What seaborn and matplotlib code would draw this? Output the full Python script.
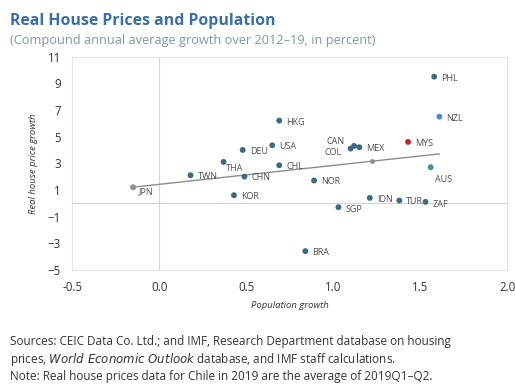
import numpy as np
import pandas as pd
import seaborn as sns
import matplotlib.pyplot as plt

# Data (population growth, real house price growth)
countries = ['JPN', 'TWN', 'THA', 'DEU', 'CHN', 'KOR', 'USA', 'HKG', 'CHL', 'NOR',
             'BRA', 'SGP', 'CAN', 'COL', 'MEX', 'IDN', 'TUR', 'ZAF', 'AUS', 'MYS',
             'PHL', 'NZL']
pop_growth = [-0.15, 0.18, 0.37, 0.48, 0.49, 0.43, 0.65, 0.69, 0.69, 0.89,
              0.84, 1.03, 1.12, 1.10, 1.15, 1.21, 1.38, 1.53, 1.56, 1.43,
              1.58, 1.61]
price_growth = [1.2, 2.1, 3.1, 4.0, 2.0, 0.6, 4.35, 6.2, 2.85, 1.7,
                -3.6, -0.3, 4.3, 4.1, 4.2, 0.4, 0.2, 0.1, 2.7, 4.6,
                9.5, 6.5]
groups = ['other', 'main', 'main', 'main', 'main', 'main', 'main', 'main', 'main', 'main',
          'main', 'main', 'main', 'main', 'main', 'main', 'main', 'main', 'aus', 'mys',
          'main', 'nzl']

# trend line
trend_x = [-0.15, 1.22, 1.61]
trend_y = [1.2, 3.15, 3.7]

df = pd.DataFrame({'country': countries, 'pop': pop_growth,
                   'price': price_growth, 'group': groups})

palette = {'main': '#3c6a84', 'aus': '#4b9096', 'mys': '#c1272d',
           'nzl': '#4f8cc2', 'other': '#8a9499'}

sns.set_style('white')
plt.rcParams['font.family'] = ['Open Sans', 'DejaVu Sans']

fig = plt.figure(figsize=(5.15, 3.91), dpi=100)
ax = fig.add_axes([0.14, 0.31, 0.845, 0.545])

ax.axhline(0, color='#d4d4d4', lw=0.8, zorder=0)
ax.axvline(0, color='#d4d4d4', lw=0.8, zorder=0)

sns.lineplot(x=trend_x, y=trend_y, ax=ax, color='#8c8c8c', lw=1.0,
             marker='o', markersize=3.5, markeredgewidth=0, markevery=[0, 1], zorder=1)
sns.scatterplot(data=df, x='pop', y='price', hue='group', palette=palette,
                s=18, edgecolor='none', legend=False, ax=ax, zorder=3)

# label offsets in points (default: right of marker)
offsets = {'CAN': (-20, 3), 'COL': (-19, -3), 'AUS': (3, -9), 'THA': (2, -5),
           'JPN': (4, -3), 'ZAF': (5, -2), 'CHL': (5, -1), 'SGP': (5, -2)}
for c, x, y in zip(countries, pop_growth, price_growth):
    dx, dy = offsets.get(c, (5, -1))
    ax.annotate(c, (x, y), xytext=(dx, dy), textcoords='offset points',
                fontsize=6.5, color='#4d4d4d', va='center', ha='left')

ax.set_xlim(-0.5, 2.0)
ax.set_ylim(-5, 11)
ax.set_xticks(np.arange(-0.5, 2.01, 0.5))
ax.set_xticklabels([f'{v:.1f}' for v in np.arange(-0.5, 2.01, 0.5)])
ax.set_yticks(range(-5, 12, 2))
ax.tick_params(labelsize=8.3, colors='#333333', length=0, pad=8)
for s in ax.spines.values():
    s.set_color('#e3e3e3')
    s.set_linewidth(0.8)

ax.set_xlabel('Population growth', fontsize=6.8, style='italic', color='#333333', labelpad=5)
ax.set_ylabel('Real house price growth', fontsize=6.8, style='italic', color='#333333', labelpad=7)

fig.text(0.02, 0.967, 'Real House Prices and Population', fontsize=11.4,
         fontweight='bold', color='#3a6ea5', va='top')
fig.text(0.02, 0.912, '(Compound annual average growth over 2012\u201319, in percent)',
         fontsize=9.2, color='#7d96ad', va='top')

foot = ('Sources: CEIC Data Co. Ltd.; and IMF, Research Department database on housing\n'
        'prices, $\\it{World\\ Economic\\ Outlook}$ database, and IMF staff calculations.\n'
        'Note: Real house prices data for Chile in 2019 are the average of 2019Q1\u2013Q2.')
fig.text(0.02, 0.142, foot, fontsize=8.5, color='#333333', va='top', linespacing=1.2)

fig.savefig('out.png', dpi=100)
